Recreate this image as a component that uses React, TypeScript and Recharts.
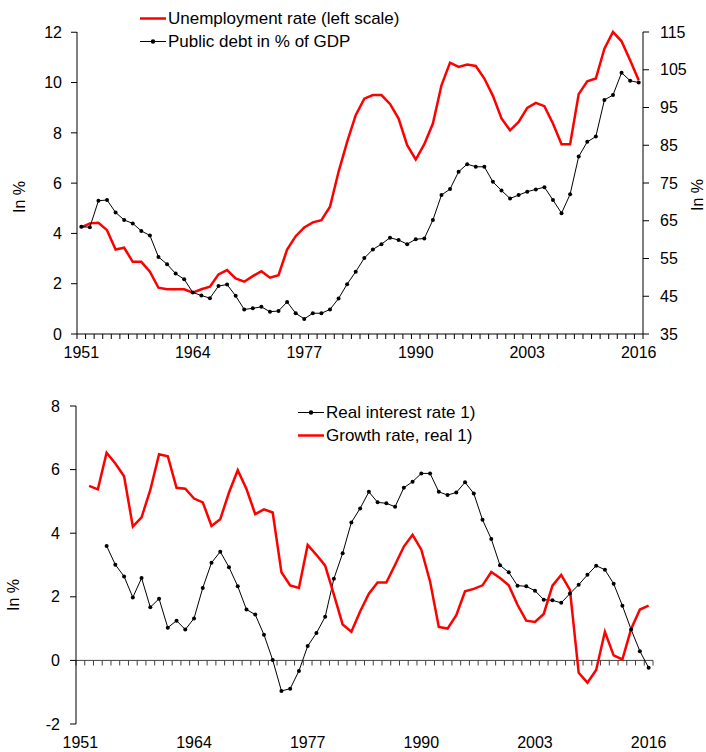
import React from "react";
import { LineChart, Line, XAxis, YAxis, Legend, ReferenceLine } from "recharts";

// years 1951..2016, one category per year
const YEARS: number[] = [];
for (let y = 1951; y <= 2016; y++) YEARS.push(y);
const YEAR_LABELS = [1951, 1964, 1977, 1990, 2003, 2016];
const YEAR_EDGES = [...YEARS.map((y) => y - 0.5), 2016.5];

// upper panel
const UNEMPLOYMENT = [
  4.24, 4.4, 4.42, 4.13, 3.36, 3.43, 2.87, 2.87, 2.48, 1.84,
  1.78, 1.78, 1.78, 1.64, 1.78, 1.88, 2.37, 2.54, 2.21, 2.08,
  2.3, 2.5, 2.24, 2.34, 3.36, 3.89, 4.24, 4.44, 4.53, 5.06,
  6.45, 7.64, 8.7, 9.36, 9.5, 9.5, 9.15, 8.57, 7.51, 6.94,
  7.55, 8.37, 9.89, 10.79, 10.62, 10.72, 10.66, 10.16, 9.47, 8.57,
  8.1, 8.43, 8.99, 9.19, 9.06, 8.37, 7.55, 7.55, 9.54, 10.05,
  10.16, 11.35, 12.01, 11.64, 10.89, 10.09,
];
const PUBLIC_DEBT = [
  63.4, 63.3, 70.3, 70.5, 67.2, 65.2, 64.3, 62.3, 61.1, 55.4,
  53.5, 51.0, 49.5, 46.0, 45.2, 44.5, 47.7, 48.1, 45.1, 41.5,
  41.8, 42.2, 40.9, 41.1, 43.5, 40.5, 39.0, 40.5, 40.5, 41.5,
  44.4, 48.2, 51.5, 55.1, 57.4, 58.8, 60.5, 59.9, 58.8, 60.1,
  60.3, 65.2, 71.8, 73.4, 78.0, 80.0, 79.3, 79.3, 75.3, 73.0,
  70.9, 71.8, 72.7, 73.3, 73.9, 70.5, 67.0, 72.0, 82.0, 85.9,
  87.3, 97.0, 98.3, 104.2, 102.1, 101.6,
];

// lower panel
const REAL_INTEREST = [
  null, null, null, 3.6, 3.01, 2.64, 1.98, 2.59, 1.67, 1.94,
  1.03, 1.25, 0.97, 1.32, 2.28, 3.07, 3.42, 2.93, 2.33, 1.6,
  1.44, 0.81, 0.01, -0.96, -0.89, -0.33, 0.45, 0.86, 1.37, 2.57,
  3.37, 4.34, 4.78, 5.3, 4.97, 4.94, 4.83, 5.43, 5.62, 5.88,
  5.88, 5.3, 5.2, 5.28, 5.6, 5.25, 4.42, 3.82, 2.99, 2.77,
  2.35, 2.33, 2.19, 1.91, 1.89, 1.81, 2.1, 2.38, 2.69, 2.98,
  2.85, 2.41, 1.72, 0.97, 0.29, -0.23,
];
const REAL_GROWTH = [
  null, 5.49, 5.38, 6.53, 6.19, 5.79, 4.21, 4.5, 5.36, 6.48,
  6.42, 5.43, 5.4, 5.09, 4.97, 4.23, 4.44, 5.28, 5.98, 5.39,
  4.6, 4.75, 4.65, 2.77, 2.36, 2.28, 3.63, 3.32, 2.98, 2.07,
  1.13, 0.9, 1.54, 2.1, 2.45, 2.45, 3.01, 3.58, 3.95, 3.48,
  2.48, 1.05, 1.0, 1.42, 2.17, 2.25, 2.36, 2.78, 2.59, 2.36,
  1.75, 1.25, 1.21, 1.46, 2.35, 2.69, 2.22, -0.39, -0.7, -0.3,
  0.9, 0.16, 0.03, 0.99, 1.6, 1.72,
];

const LEFT_TICKS = [0, 2, 4, 6, 8, 10, 12];
const RIGHT_TICKS = [35, 45, 55, 65, 75, 85, 95, 105, 115];
const LOWER_TICKS = [-2, 0, 2, 4, 6, 8];

const FONT = '"Liberation Sans", Arial, Helvetica, sans-serif';
const RED = "#ff0000";
const DOTTED = ["debt", "interest"];

const topData = YEARS.map((year, i) => ({ year, unemployment: UNEMPLOYMENT[i], debt: PUBLIC_DEBT[i] }));
const bottomData = YEARS.map((year, i) => ({ year, interest: REAL_INTEREST[i], growth: REAL_GROWTH[i] }));
const xTicks = [...YEAR_EDGES, ...YEAR_LABELS].sort((a, b) => a - b);

const tickStyle = { fill: "#000", fontSize: 16, fontFamily: FONT };

function YearTick(props: any) {
  const { x, y, payload, marks } = props;
  const v = payload.value;
  if (YEAR_LABELS.includes(v)) {
    return (
      <text x={x} y={y + 24} textAnchor="middle" fontSize={16} fontFamily={FONT} fill="#000">
        {v}
      </text>
    );
  }
  if (marks) return <line x1={x} x2={x} y1={y} y2={y + 5} stroke="#000" strokeWidth={1} />;
  return <g />;
}

// legend keeps the order given in `order` (recharts sorts by name otherwise)
function SeriesLegend(props: any) {
  const { payload = [], order = [] } = props;
  const items = [...payload].sort((a: any, b: any) => order.indexOf(a.dataKey) - order.indexOf(b.dataKey));
  return (
    <div style={{ fontFamily: FONT, fontSize: 17, color: "#000" }}>
      {items.map((p: any) => {
        const dotted = DOTTED.includes(p.dataKey);
        return (
          <div key={p.value} style={{ display: "flex", alignItems: "center", height: 23, whiteSpace: "nowrap" }}>
            <svg width={28} height={23} style={{ display: "block" }}>
              <line x1={0} x2={26} y1={11.5} y2={11.5} stroke={p.color} strokeWidth={dotted ? 1 : 2.5} />
              {dotted && <circle cx={13} cy={11.5} r={2.2} fill="#000" />}
            </svg>
            <span>{p.value}</span>
          </div>
        );
      })}
    </div>
  );
}

const labelStyle = { fill: "#000", fontSize: 16, fontFamily: FONT, textAnchor: "middle" as const };

export default function App() {
  return (
    <div style={{ position: "relative", width: 706, height: 752, background: "#fff", fontFamily: FONT }}>
      <style>{"body{margin:0;}"}</style>
      <div style={{ position: "absolute", left: 0, top: 0 }}>
        <LineChart width={706} height={372} data={topData} margin={{ top: 32, right: 0, bottom: 0, left: 0 }}>
          <XAxis
            dataKey="year"
            type="number"
            domain={[1950.5, 2016.5]}
            ticks={xTicks}
            interval={0}
            tickSize={0}
            tickMargin={0}
            tickLine={false}
            height={38}
            axisLine={{ stroke: "#000" }}
            tick={<YearTick marks />}
          />
          <YAxis
            yAxisId="left"
            domain={[0, 12]}
            ticks={LEFT_TICKS}
            width={77}
            tickSize={6}
            tickMargin={9}
            axisLine={{ stroke: "#000" }}
            tickLine={{ stroke: "#000" }}
            tick={tickStyle}
            label={{ value: "In %", angle: -90, position: "center", dx: -19, dy: 14, style: labelStyle }}
          />
          <YAxis
            yAxisId="right"
            orientation="right"
            domain={[35, 115]}
            ticks={RIGHT_TICKS}
            width={63}
            tickSize={6}
            tickMargin={11}
            axisLine={{ stroke: "#000" }}
            tickLine={{ stroke: "#000" }}
            tick={tickStyle}
            label={{ value: "In %", angle: -90, position: "center", dx: 23, dy: 12, style: labelStyle }}
          />
          <Legend
            layout="vertical"
            align="center"
            verticalAlign="middle"
            wrapperStyle={{ left: 140, top: 7, width: 300 }}
            content={<SeriesLegend order={["unemployment", "debt"]} />}
          />
          <Line
            yAxisId="left"
            type="linear"
            dataKey="unemployment"
            name="Unemployment rate (left scale)"
            stroke={RED}
            strokeWidth={2.5}
            dot={false}
            isAnimationActive={false}
          />
          <Line
            yAxisId="right"
            type="linear"
            dataKey="debt"
            name="Public debt in % of GDP"
            stroke="#000"
            strokeWidth={1}
            dot={{ r: 2, fill: "#000", stroke: "#000", strokeWidth: 0 }}
            isAnimationActive={false}
          />
        </LineChart>
      </div>

      <div style={{ position: "absolute", left: 0, top: 380 }}>
        <LineChart width={706} height={372} data={bottomData} margin={{ top: 26, right: 53, bottom: 0, left: 0 }}>
          <XAxis
            dataKey="year"
            type="number"
            domain={[1950.5, 2016.5]}
            ticks={xTicks}
            interval={0}
            tickSize={0}
            tickMargin={0}
            tickLine={false}
            height={28}
            axisLine={false}
            tick={<YearTick />}
          />
          <YAxis
            domain={[-2, 8]}
            ticks={LOWER_TICKS}
            width={76}
            tickSize={6}
            tickMargin={10}
            axisLine={{ stroke: "#000" }}
            tickLine={{ stroke: "#000" }}
            tick={tickStyle}
            label={{ value: "In %", angle: -90, position: "center", dx: -25, dy: 30, style: labelStyle }}
          />
          <ReferenceLine y={0} stroke="#404040" strokeWidth={1} />
          {YEAR_EDGES.map((e) => (
            <ReferenceLine
              key={e}
              segment={[
                { x: e, y: 0 },
                { x: e, y: -0.16 },
              ]}
              stroke="#404040"
              strokeWidth={1}
            />
          ))}
          <Legend
            layout="vertical"
            align="center"
            verticalAlign="middle"
            wrapperStyle={{ left: 298, top: 21, width: 300 }}
            content={<SeriesLegend order={["interest", "growth"]} />}
          />
          <Line
            type="linear"
            dataKey="interest"
            name="Real interest rate 1)"
            stroke="#000"
            strokeWidth={1}
            dot={{ r: 2, fill: "#000", stroke: "#000", strokeWidth: 0 }}
            isAnimationActive={false}
          />
          <Line
            type="linear"
            dataKey="growth"
            name="Growth rate, real 1)"
            stroke={RED}
            strokeWidth={2.5}
            dot={false}
            isAnimationActive={false}
          />
        </LineChart>
      </div>
    </div>
  );
}
